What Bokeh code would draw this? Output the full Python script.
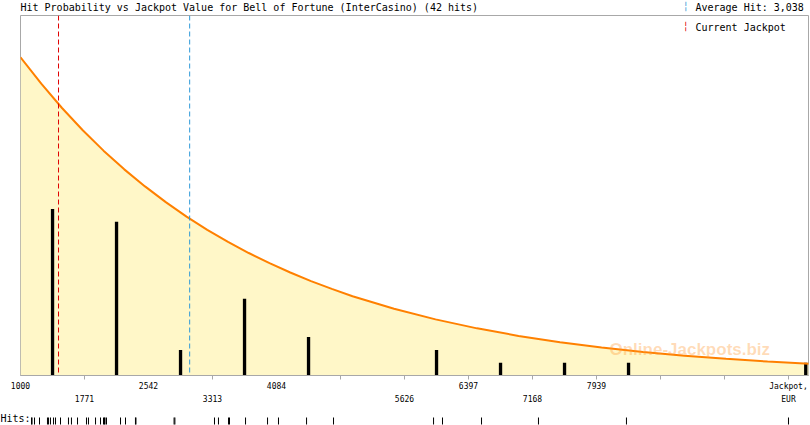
from bokeh.plotting import figure
from bokeh.models import Range1d, LinearAxis, FixedTicker, Span, Label
from bokeh.layouts import column
from bokeh.embed import file_html
from bokeh.resources import INLINE

# ---------------- data ----------------
title_text = "Hit Probability vs Jackpot Value for Bell of Fortune (InterCasino) (42 hits)"
average_hit = 3038
average_label = "Average Hit: 3,038"
current_jackpot = 1458
current_label = "Current Jackpot"
watermark = "Online-Jackpots.biz"

x_start, x_end = 1000, 10493
row1_ticks = [1000, 2542, 4084, 6397, 7939, 10252]
row2_ticks = [1771, 3313, 5626, 7168, 10252]
tick_marks = [1771, 3313, 4855, 5626, 6397, 7168, 7939, 8710, 9481, 10252]
row1_overrides = {10252: "Jackpot,"}
row2_overrides = {10252: "EUR"}

# histogram bars (bin centre, EUR) and hit counts
bar_x = [1386, 2157, 2928, 3699, 4470, 6012, 6783, 7554, 8325, 10460]
bar_counts = [13, 12, 2, 6, 3, 2, 1, 1, 1, 1]

# probability curve (in hit units)
curve_x = [1000, 1250, 1500, 1750, 2000, 2250, 2500, 2750, 3000, 3250, 3500,
           3750, 4000, 4250, 4500, 4750, 5000, 5500, 6000, 6500, 7000, 7500,
           8000, 8500, 9000, 9500, 10000, 10500]
curve_y = [24.84, 22.78, 20.88, 19.14, 17.55, 16.09, 14.76, 13.53, 12.40, 11.37,
           10.43, 9.56, 8.77, 8.04, 7.37, 6.76, 6.19, 5.21, 4.38, 3.68, 3.09,
           2.60, 2.19, 1.84, 1.54, 1.30, 1.09, 0.92]

# individual hits (EUR)
hits = [1133, 1139, 1169, 1229, 1325, 1337, 1361, 1398, 1422, 1482, 1578, 1614, 1687,
        1795, 1819, 1904, 1964, 2000, 2012, 2018, 2036, 2205, 2265, 2385, 2391,
        2850, 2860,
        3337, 3385, 3506, 3518, 3711, 3976,
        4108, 4446, 4771,
        5976, 6084,
        6554, 7240, 8300, 10252]

MONO = "DejaVu Sans Mono"
GRAY = "#A8A8A8"
W = 810
LEFT, RIGHT = 20, 2
FRAME_W = W - LEFT - RIGHT
eur_per_px = (x_end - x_start) / FRAME_W

# ---------------- top strip: title + average legend ----------------
pt = figure(width=W, height=14, x_range=Range1d(0, 1), y_range=Range1d(0, 1),
            x_axis_location=None, y_axis_location=None,
            toolbar_location=None, output_backend="svg", min_border=0)
pt.frame_align = False
pt.grid.visible = False
pt.outline_line_color = None
pt.add_layout(Label(x=20, y=7, x_units="screen", y_units="screen", text=title_text,
                    text_font=MONO, text_font_size="10px", text_baseline="middle",
                    text_color="black"))
pt.add_layout(Label(x=685, y=8, x_units="screen", y_units="screen", text="\u254e",
                    text_font=MONO, text_font_size="10px", text_baseline="middle",
                    text_align="center", text_color="#2E9AD8"))
pt.add_layout(Label(x=695, y=7, x_units="screen", y_units="screen", text=average_label,
                    text_font=MONO, text_font_size="10px", text_baseline="middle",
                    text_color="black"))

# ---------------- main figure ----------------
p = figure(width=W, height=395,
           x_range=Range1d(x_start, x_end), y_range=Range1d(0, 28.1),
           x_axis_location=None, y_axis_location=None,
           toolbar_location=None, output_backend="svg",
           min_border_left=LEFT, min_border_right=RIGHT,
           min_border_top=1, min_border_bottom=34)
p.grid.visible = False
p.outline_line_color = GRAY
p.outline_line_width = 1
p.background_fill_color = "white"
p.border_fill_color = "white"

p.varea(x=curve_x, y1=0, y2=curve_y, fill_color="#FFF7C8")
p.vbar(x=bar_x, top=bar_counts, width=40, fill_color="black", line_color=None)
p.line(x=curve_x, y=curve_y, line_color="#FF8000", line_width=2)

p.add_layout(Span(location=current_jackpot, dimension="height",
                  line_color="#E00000", line_dash="5 3", line_width=1))
p.add_layout(Span(location=average_hit, dimension="height",
                  line_color="#2E9AD8", line_dash="5 3", line_width=1))

ax1 = LinearAxis(ticker=FixedTicker(ticks=row1_ticks, minor_ticks=tick_marks))
ax1.axis_line_color = GRAY
ax1.major_tick_out = 0
ax1.major_tick_in = 0
ax1.major_tick_line_color = None
ax1.minor_tick_out = 4
ax1.minor_tick_in = 0
ax1.minor_tick_line_color = GRAY
ax1.major_label_standoff = 2
ax1.major_label_text_font = MONO
ax1.major_label_text_font_size = "8px"
ax1.major_label_text_color = "black"
ax1.major_label_overrides = row1_overrides
p.add_layout(ax1, "below")

ax2 = LinearAxis(ticker=FixedTicker(ticks=row2_ticks, minor_ticks=[]))
ax2.axis_line_color = None
ax2.major_tick_out = 0
ax2.major_tick_in = 0
ax2.major_tick_line_color = None
ax2.minor_tick_line_color = None
ax2.major_label_standoff = 1
ax2.major_label_text_font = MONO
ax2.major_label_text_font_size = "8px"
ax2.major_label_text_color = "black"
ax2.major_label_overrides = row2_overrides
p.add_layout(ax2, "below")

p.add_layout(Label(x=685 - LEFT, y=349, x_units="screen", y_units="screen", text="\u254e",
                   text_font=MONO, text_font_size="10px", text_baseline="middle",
                   text_align="center", text_color="#E00000"))
p.add_layout(Label(x=695 - LEFT, y=348, x_units="screen", y_units="screen", text=current_label,
                   text_font=MONO, text_font_size="10px", text_baseline="middle",
                   text_color="black"))
p.add_layout(Label(x=589, y=26, x_units="screen", y_units="screen", text=watermark,
                   text_font="Liberation Sans", text_font_size="17px",
                   text_font_style="bold", text_baseline="middle",
                   text_color="#FF9933", text_alpha=0.35))

# ---------------- hits strip ----------------
strip_start = x_start - LEFT * eur_per_px
strip_end = strip_start + W * eur_per_px
pb = figure(width=W, height=16, x_range=Range1d(strip_start, strip_end), y_range=Range1d(0, 16),
            x_axis_location=None, y_axis_location=None,
            toolbar_location=None, output_backend="svg", min_border=0)
pb.frame_align = False
pb.grid.visible = False
pb.outline_line_color = None
pb.segment(x0=hits, y0=1, x1=hits, y1=8, line_color="black", line_width=1)
pb.add_layout(Label(x=0, y=7, x_units="screen", y_units="screen", text="Hits:",
                    text_font=MONO, text_font_size="10px", text_color="black",
                    text_baseline="middle"))

layout = column(pt, p, pb, spacing=0)
open("out.html", "w").write(file_html(layout, INLINE))
